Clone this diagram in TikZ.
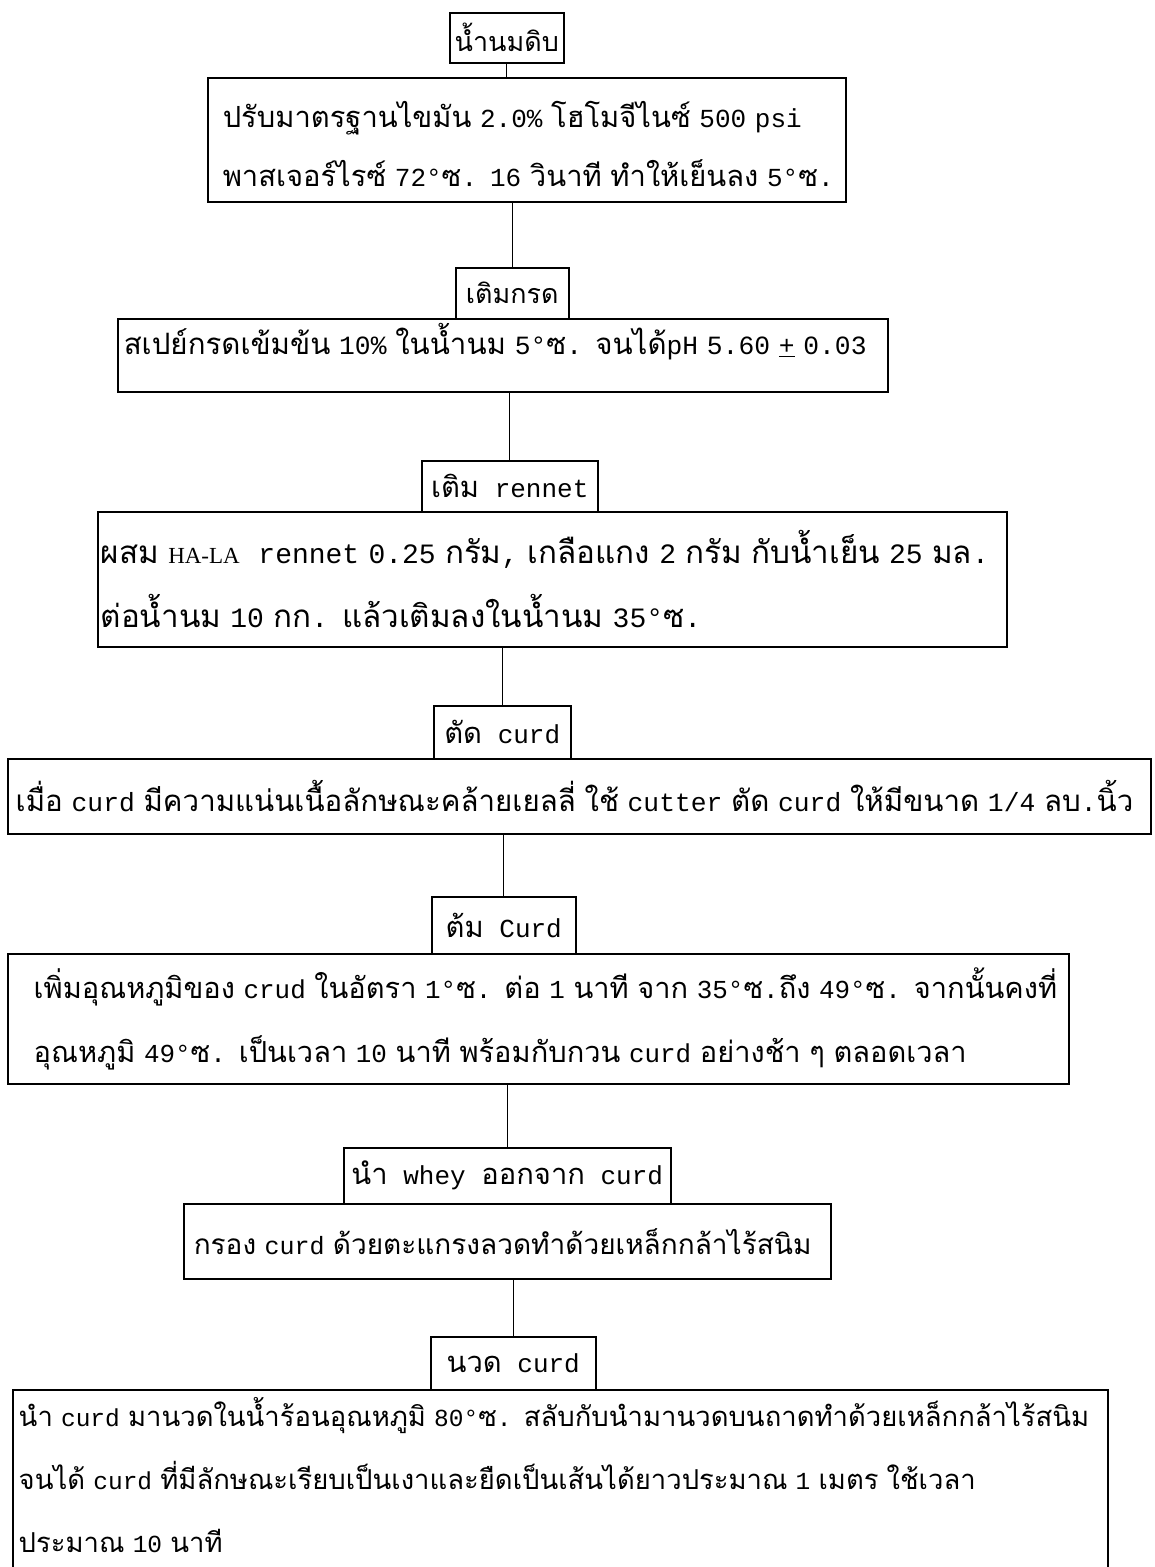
\documentclass[tikz,border=0pt]{standalone}
\usepackage{fontspec}
\setmainfont{Liberation Mono}
\newfontfamily\latfont{Liberation Mono}
\newfontfamily\thaifont[Script=Thai, Scale=1.12]{Loma}
\newfontfamily\halafont{Liberation Serif}

% Thai letters get Loma, everything else the typewriter face
\newXeTeXintercharclass\thaiclass
\newcount\thaichar
\thaichar="0E00
\loop
  \XeTeXcharclass\thaichar=\thaiclass
  \ifnum\thaichar<"0E7F \advance\thaichar by 1
\repeat
\XeTeXinterchartoks 0 \thaiclass = {\thaifont}
\XeTeXinterchartoks 4095 \thaiclass = {\thaifont}
\XeTeXinterchartoks \thaiclass 0 = {\latfont}
\XeTeXinterchartoks \thaiclass 4095 = {\latfont}
\XeTeXinterchartokenstate=1

\tikzset{
  stepbox/.style={draw, line width=1.5pt, anchor=north west, inner sep=0pt},
  bigbox/.style={draw, line width=1.5pt, anchor=north west, align=left, inner ysep=0pt},
  link/.style={line width=1pt}
}

\begin{document}
\begin{tikzpicture}[x=1pt, y=-1pt, every node/.style={font=\fontsize{26}{63}\selectfont}]
\useasboundingbox (0,0) rectangle (1155,1567);
\clip (0,0) rectangle (1155,1567);
\fill[white] (0,0) rectangle (1155,1567);

\node[stepbox, minimum width=114pt, minimum height=50pt, font=\fontsize{24}{63}\selectfont] (milk) at (449,12) {น้ำนมดิบ};
\node[bigbox, minimum width=638pt, inner xsep=15pt, text width=608pt, text height=50pt, text depth=74pt,
  font=\fontsize{26}{59}\selectfont] (std) at (207,77)
  {\mbox{ปรับมาตรฐานไขมัน 2.0\% โฮโมจีไนซ์ 500 psi}\\\mbox{พาสเจอร์ไรซ์ 72°ซ. 16 วินาที ทำให้เย็นลง 5°ซ.}};

\node[stepbox, minimum width=113pt, minimum height=51pt, font=\fontsize{24}{63}\selectfont] (acid) at (455,267) {เติมกรด};
\node[bigbox, minimum width=770pt, inner xsep=6pt, text width=758pt, text height=36pt, text depth=37pt,
  font=\fontsize{26.3}{63}\selectfont] (spray) at (117,318)
  {\mbox{สเปย์กรดเข้มข้น 10\% ในน้ำนม 5°ซ. จนได้pH 5.60 \underline{+} 0.03}};

\node[stepbox, minimum width=176pt, minimum height=51pt] (rennet) at (421,460) {เติม rennet};
\node[bigbox, minimum width=909pt, minimum height=135pt, inner xsep=3pt, text width=903pt,
  font=\fontsize{28}{64}\selectfont] (mix) at (97,511)
  {\mbox{ผสม {\halafont\fontsize{23}{64}\selectfont HA-LA}\ \ rennet 0.25 กรัม, เกลือแกง 2 กรัม กับน้ำเย็น 25 มล.}\\\mbox{ต่อน้ำนม 10 กก. แล้วเติมลงในน้ำนม 35°ซ.}};

\node[stepbox, minimum width=137pt, minimum height=53pt] (cut) at (433,705) {ตัด curd};
\node[bigbox, minimum width=1143pt, minimum height=75pt, inner xsep=8pt, text width=1127pt,
  font=\fontsize{26.3}{63}\selectfont] (jelly) at (7,758)
  {\mbox{เมื่อ curd มีความแน่นเนื้อลักษณะคล้ายเยลลี่ ใช้ cutter ตัด curd ให้มีขนาด 1/4 ลบ.นิ้ว}};

\node[stepbox, minimum width=144pt, minimum height=57pt] (boil) at (431,896) {ต้ม Curd};
\node[bigbox, minimum width=1061pt, minimum height=130pt, inner xsep=26pt, text width=1009pt,
  font=\fontsize{25.9}{64}\selectfont] (heat) at (7,953)
  {\mbox{เพิ่มอุณหภูมิของ crud ในอัตรา 1°ซ. ต่อ 1 นาที จาก 35°ซ.ถึง 49°ซ. จากนั้นคงที่}\\\mbox{อุณหภูมิ 49°ซ. เป็นเวลา 10 นาที พร้อมกับกวน curd อย่างช้า ๆ ตลอดเวลา}};

\node[stepbox, minimum width=327pt, minimum height=56pt] (whey) at (343,1147) {นำ whey ออกจาก curd};
\node[bigbox, minimum width=647pt, minimum height=75pt, inner xsep=10pt, text width=627pt,
  font=\fontsize{25}{63}\selectfont] (sieve) at (183,1203)
  {\mbox{กรอง curd ด้วยตะแกรงลวดทำด้วยเหล็กกล้าไร้สนิม}};

\node[stepbox, minimum width=165pt, minimum height=53pt] (knead) at (430,1336) {นวด curd};
\node[bigbox, minimum width=1095pt, inner xsep=6pt, text width=1083pt, text height=37pt, text depth=153pt,
  font=\fontsize{24.5}{63}\selectfont] (stretch) at (12,1389)
  {\mbox{นำ curd มานวดในน้ำร้อนอุณหภูมิ 80°ซ. สลับกับนำมานวดบนถาดทำด้วยเหล็กกล้าไร้สนิม}\\\mbox{จนได้ curd ที่มีลักษณะเรียบเป็นเงาและยืดเป็นเส้นได้ยาวประมาณ 1 เมตร ใช้เวลา}\\\mbox{ประมาณ 10 นาที}};

% connectors
\draw[link] (milk.south) -- (milk.south |- std.north);
\draw[link] (std.south -| acid.north) -- (acid.north);
\draw[link] (spray.south -| rennet.north) -- (rennet.north);
\draw[link] (mix.south -| cut.north) -- (cut.north);
\draw[link] (jelly.south -| boil.north) -- (boil.north);
\draw[link] (heat.south -| whey.north) -- (whey.north);
\draw[link] (sieve.south -| knead.north) -- (knead.north);
\end{tikzpicture}
\end{document}
